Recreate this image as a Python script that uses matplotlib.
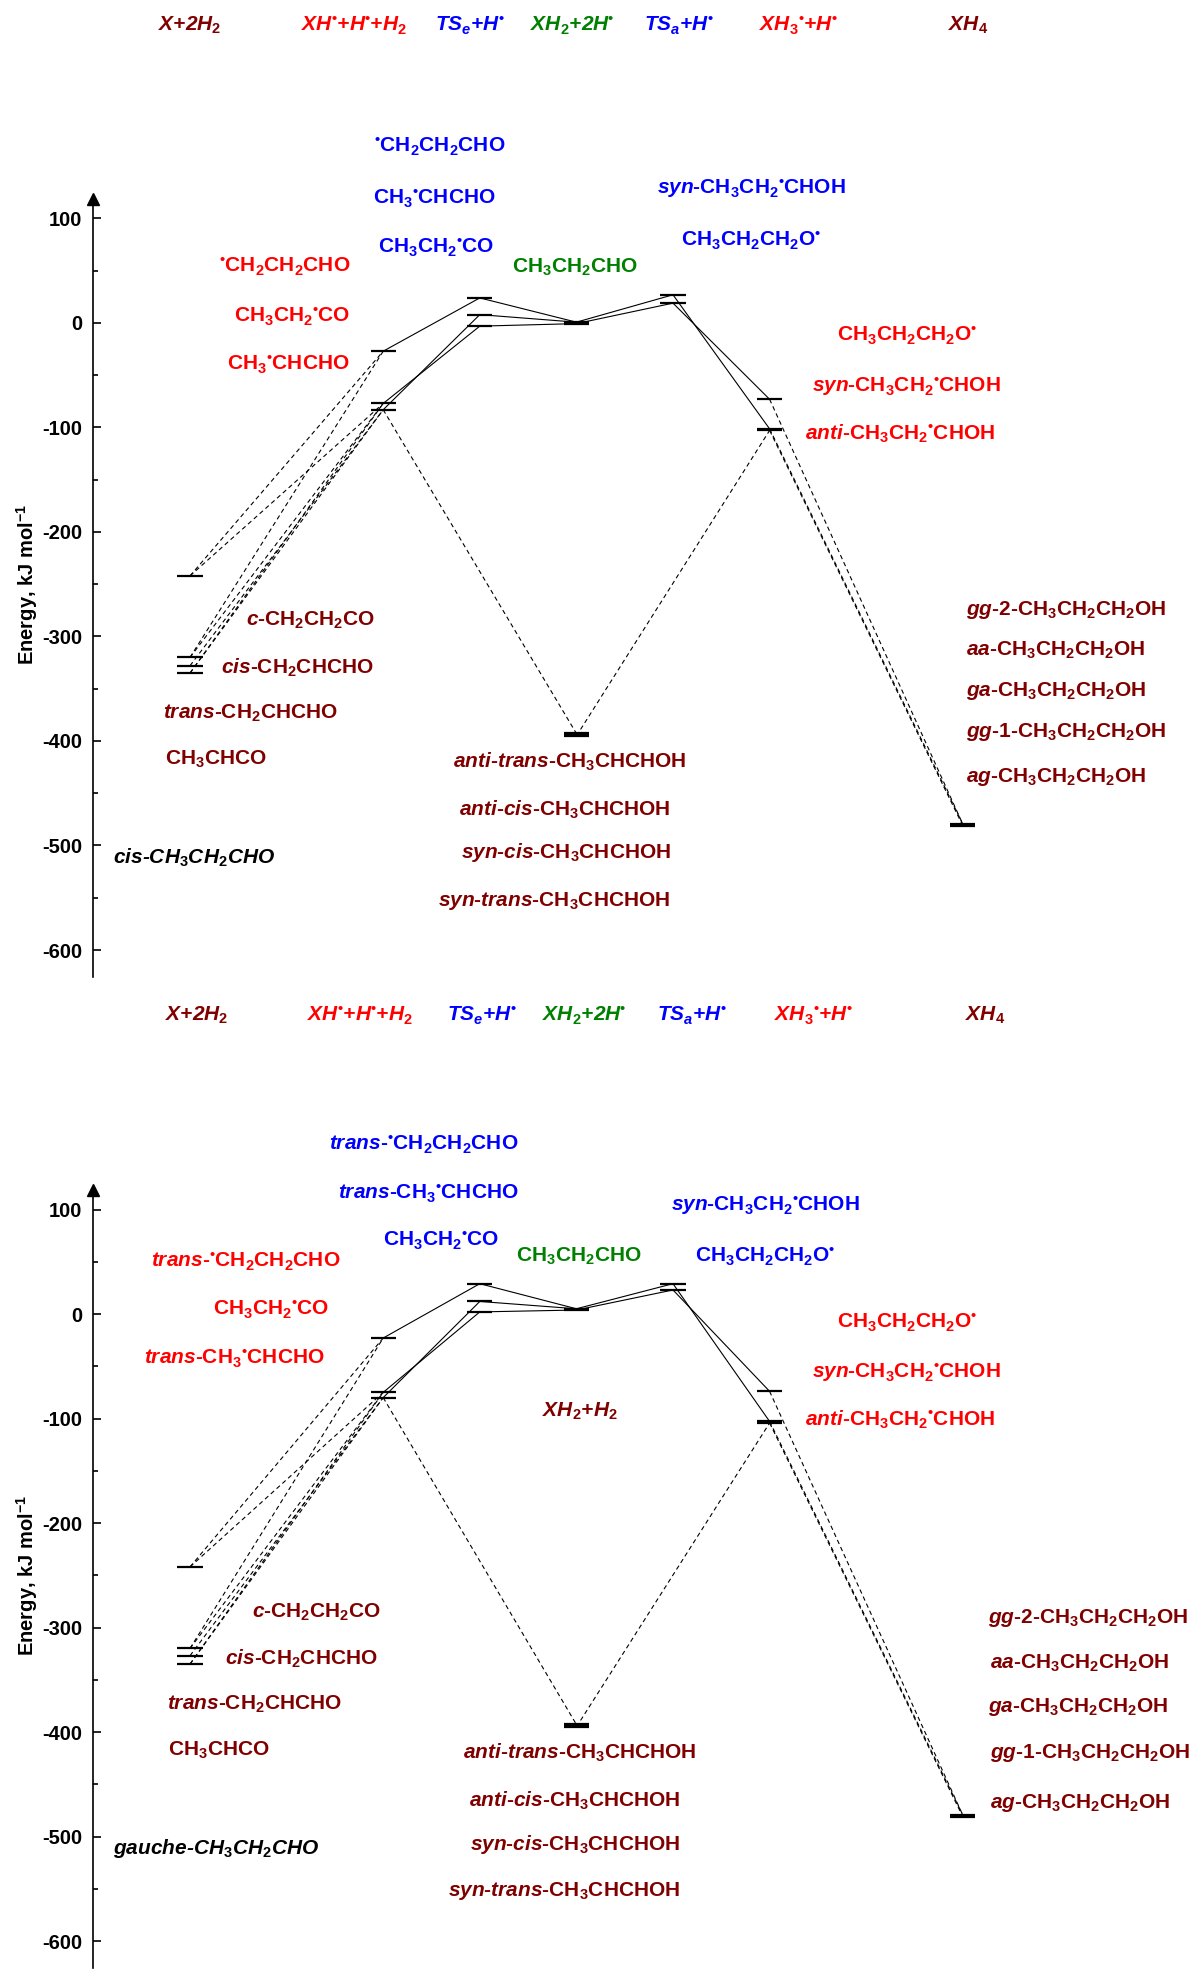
import matplotlib
matplotlib.use('Agg')
import matplotlib.pyplot as plt

plt.rcParams.update({
    'font.family': ['Liberation Sans', 'DejaVu Sans'],
    'font.weight': 'bold',
    'mathtext.fontset': 'custom',
    'mathtext.rm': 'Liberation Sans:bold',
    'mathtext.bf': 'Liberation Sans:bold',
    'mathtext.it': 'Liberation Sans:bold:italic',
    'mathtext.sf': 'Liberation Sans:bold',
    'mathtext.default': 'rm',
    'axes.unicode_minus': False,
})

# ---------------- data ----------------
stages = ['X', 'XH', 'TSe', 'XH2', 'TSa', 'XH3', 'XH4']

# Panel A (upper) energies, kJ/mol
a_levels = {
    'X':   [-242, -320, -328, -335],
    'XH':  [-27, -77, -83],
    'TSe': [24, 8, -3],
    'XH2': [0.8, -0.6, -392.8, -394, -395.2],
    'TSa': [27, 19],
    'XH3': [-73, -101.3, -102.8],
    'XH4': [-479.5, -481],
}
# Panel B (lower) energies, kJ/mol
b_levels = {
    'X':   [-242, -320, -327, -335],
    'XH':  [-23, -75, -80],
    'TSe': [29, 12, 2],
    'XH2': [5, 3.8, -392.8, -394, -395.2],
    'TSa': [29, 23],
    'XH3': [-74, -102.8, -104.3],
    'XH4': [-479.5, -481],
}

# connections (stage, level index) -> (stage, level index)
solid_links = [
    ('XH', 0, 'TSe', 0), ('XH', 1, 'TSe', 2), ('XH', 2, 'TSe', 1),
    ('TSe', 0, 'XH2', 0), ('TSe', 1, 'XH2', 0), ('TSe', 2, 'XH2', 1),
    ('XH2', 0, 'TSa', 0), ('XH2', 1, 'TSa', 1),
    ('TSa', 0, 'XH3', 1), ('TSa', 1, 'XH3', 0),
]
dashed_links = [
    ('X', 0, 'XH', 0), ('X', 0, 'XH', 1),
    ('X', 1, 'XH', 0), ('X', 1, 'XH', 1),
    ('X', 2, 'XH', 2), ('X', 3, 'XH', 2), ('X', 3, 'XH', 1),
    ('XH', 2, 'XH2', 2), ('XH2', 4, 'XH3', 2),
    ('XH3', 0, 'XH4', 0), ('XH3', 1, 'XH4', 0), ('XH3', 2, 'XH4', 1),
]

DR, RD, BL, GR, BK = '#800000', '#FF0000', '#0000FF', '#008000', '#000000'

header_texts = [r'X+2H$_\mathit{2}$', r'XH$^•$+H$^•$+H$_\mathit{2}$', r'TS$_\mathit{e}$+H$^•$',
                r'XH$_\mathit{2}$+2H$^•$', r'TS$_\mathit{a}$+H$^•$', r'XH$_\mathit{3}$$^•$+H$^•$',
                r'XH$_\mathit{4}$']
header_colors = [DR, RD, BL, GR, BL, RD, DR]

a_labels = [
    (r'$^•$CH$_2$CH$_2$CHO', BL), (r'CH$_3$$^•$CHCHO', BL), (r'CH$_3$CH$_2$$^•$CO', BL),
    (r'$^•$CH$_2$CH$_2$CHO', RD), (r'CH$_3$CH$_2$$^•$CO', RD), (r'CH$_3$$^•$CHCHO', RD),
    (r'CH$_3$CH$_2$CHO', GR),
    (r'$\mathit{syn}$-CH$_3$CH$_2$$^•$CHOH', BL), (r'CH$_3$CH$_2$CH$_2$O$^•$', BL),
    (r'CH$_3$CH$_2$CH$_2$O$^•$', RD), (r'$\mathit{syn}$-CH$_3$CH$_2$$^•$CHOH', RD),
    (r'$\mathit{anti}$-CH$_3$CH$_2$$^•$CHOH', RD),
    (r'$\mathit{c}$-CH$_2$CH$_2$CO', DR), (r'$\mathit{cis}$-CH$_2$CHCHO', DR),
    (r'$\mathit{trans}$-CH$_2$CHCHO', DR), (r'CH$_3$CHCO', DR),
    (r'cis-CH$_\mathit{3}$CH$_\mathit{2}$CHO', BK),
    (r'$\mathit{anti}$-$\mathit{trans}$-CH$_3$CHCHOH', DR), (r'$\mathit{anti}$-$\mathit{cis}$-CH$_3$CHCHOH', DR),
    (r'$\mathit{syn}$-$\mathit{cis}$-CH$_3$CHCHOH', DR), (r'$\mathit{syn}$-$\mathit{trans}$-CH$_3$CHCHOH', DR),
    (r'$\mathit{gg}$-$\mathit{2}$-CH$_3$CH$_2$CH$_2$OH', DR), (r'$\mathit{aa}$-CH$_3$CH$_2$CH$_2$OH', DR),
    (r'$\mathit{ga}$-CH$_3$CH$_2$CH$_2$OH', DR), (r'$\mathit{gg}$-$\mathit{1}$-CH$_3$CH$_2$CH$_2$OH', DR),
    (r'$\mathit{ag}$-CH$_3$CH$_2$CH$_2$OH', DR),
]
b_labels = [
    (r'$\mathit{trans}$-$^•$CH$_2$CH$_2$CHO', BL), (r'$\mathit{trans}$-CH$_3$$^•$CHCHO', BL),
    (r'CH$_3$CH$_2$$^•$CO', BL),
    (r'$\mathit{trans}$-$^•$CH$_2$CH$_2$CHO', RD), (r'CH$_3$CH$_2$$^•$CO', RD),
    (r'$\mathit{trans}$-CH$_3$$^•$CHCHO', RD),
    (r'CH$_3$CH$_2$CHO', GR),
    (r'XH$_\mathit{2}$+H$_\mathit{2}$', DR),
    (r'$\mathit{syn}$-CH$_3$CH$_2$$^•$CHOH', BL), (r'CH$_3$CH$_2$CH$_2$O$^•$', BL),
    (r'CH$_3$CH$_2$CH$_2$O$^•$', RD), (r'$\mathit{syn}$-CH$_3$CH$_2$$^•$CHOH', RD),
    (r'$\mathit{anti}$-CH$_3$CH$_2$$^•$CHOH', RD),
    (r'$\mathit{c}$-CH$_2$CH$_2$CO', DR), (r'$\mathit{cis}$-CH$_2$CHCHO', DR),
    (r'$\mathit{trans}$-CH$_2$CHCHO', DR), (r'CH$_3$CHCO', DR),
    (r'gauche-CH$_\mathit{3}$CH$_\mathit{2}$CHO', BK),
    (r'$\mathit{anti}$-$\mathit{trans}$-CH$_3$CHCHOH', DR), (r'$\mathit{anti}$-$\mathit{cis}$-CH$_3$CHCHOH', DR),
    (r'$\mathit{syn}$-$\mathit{cis}$-CH$_3$CHCHOH', DR), (r'$\mathit{syn}$-$\mathit{trans}$-CH$_3$CHCHOH', DR),
    (r'$\mathit{gg}$-$\mathit{2}$-CH$_3$CH$_2$CH$_2$OH', DR), (r'$\mathit{aa}$-CH$_3$CH$_2$CH$_2$OH', DR),
    (r'$\mathit{ga}$-CH$_3$CH$_2$CH$_2$OH', DR), (r'$\mathit{gg}$-$\mathit{1}$-CH$_3$CH$_2$CH$_2$OH', DR),
    (r'$\mathit{ag}$-CH$_3$CH$_2$CH$_2$OH', DR),
]
italic_labels = {r'cis-CH$_\mathit{3}$CH$_\mathit{2}$CHO', r'gauche-CH$_\mathit{3}$CH$_\mathit{2}$CHO',
                 r'XH$_\mathit{2}$+H$_\mathit{2}$'}

yticks = [100, 0, -100, -200, -300, -400, -500, -600]
yticks_minor = [50, -50, -150, -250, -350, -450, -550]

# ---------------- layout (pixels of the 1200x1985 canvas) ----------------
W, H = 1200, 1985
X0, UNIT = 190.0, 96.6          # pixel x of first stage, pixels per stage step
PPU = 1.045                      # pixels per kJ/mol
stage_pos = dict(zip(stages, [0, 2, 3, 4, 5, 6, 8]))
YMIN, YMAX = -626, 125
HALF = 0.13

# header positions (x px) and label positions (x px, y px, ha)
a_header_x = [190, 354, 470, 572, 679, 798, 968]
b_header_x = [197, 360, 482, 584, 692, 813, 985]
a_header_y, b_header_y = 25, 1015
a_label_pos = [
    (440, 146, 'center'), (434, 198, 'center'), (436, 247, 'center'),
    (350, 266, 'right'), (350, 316, 'right'), (350, 364, 'right'),
    (575, 267, 'center'),
    (751, 189, 'center'), (751, 240, 'center'),
    (907, 335, 'center'), (906, 387, 'center'), (900, 434, 'center'),
    (311, 620, 'center'), (297, 668, 'center'), (250, 713, 'center'), (165, 759, 'left'),
    (194, 858, 'center'),
    (570, 762, 'center'), (565, 810, 'center'), (566, 853, 'center'), (554, 901, 'center'),
    (966, 610, 'left'), (966, 650, 'left'), (966, 691, 'left'), (966, 732, 'left'), (966, 777, 'left'),
]
b_label_pos = [
    (424, 1144, 'center'), (428, 1193, 'center'), (441, 1240, 'center'),
    (246, 1261, 'center'), (271, 1309, 'center'), (234, 1358, 'center'),
    (579, 1256, 'center'),
    (580, 1411, 'center'),
    (765, 1206, 'center'), (765, 1256, 'center'),
    (907, 1322, 'center'), (906, 1373, 'center'), (900, 1420, 'center'),
    (317, 1612, 'center'), (301, 1659, 'center'), (254, 1704, 'center'), (168, 1750, 'left'),
    (216, 1848, 'center'),
    (580, 1753, 'center'), (575, 1801, 'center'), (575, 1844, 'center'), (564, 1891, 'center'),
    (988, 1618, 'left'), (990, 1663, 'left'), (988, 1707, 'left'), (990, 1753, 'left'), (990, 1803, 'left'),
]

LABEL_FS = 15
HEADER_FS = 15

fig = plt.figure(figsize=(W / 100, H / 100), dpi=100)


def draw_panel(zero_px, levels, header_x, header_y, labels, label_pos):
    top_px = zero_px - YMAX * PPU
    bot_px = zero_px - YMIN * PPU
    left_px = X0 - UNIT
    ax = fig.add_axes([left_px / W, 1 - bot_px / H, (W - left_px) / W, (bot_px - top_px) / H])
    ax.set_xlim(-1, (W - X0) / UNIT)
    ax.set_ylim(YMIN, YMAX)

    def px2x(px):
        return (px - X0) / UNIT

    def py2y(py):
        return (zero_px - py) / PPU

    # levels
    for st in stages:
        p = stage_pos[st]
        for e in levels[st]:
            ax.plot([p - HALF, p + HALF], [e, e], color='k', lw=1.6, solid_capstyle='butt', zorder=3)
    # links
    for (s1, i1, s2, i2) in solid_links:
        ax.plot([stage_pos[s1], stage_pos[s2]], [levels[s1][i1], levels[s2][i2]],
                color='k', lw=0.8, zorder=2)
    for (s1, i1, s2, i2) in dashed_links:
        ax.plot([stage_pos[s1], stage_pos[s2]], [levels[s1][i1], levels[s2][i2]],
                color='k', lw=0.8, ls=(0, (4, 3)), zorder=2)

    # axis
    for sp in ['top', 'right', 'bottom']:
        ax.spines[sp].set_visible(False)
    ax.spines['left'].set_linewidth(1.2)
    ax.spines['left'].set_bounds(YMIN, 118)
    ax.plot([-1], [119], marker='^', ms=8.6, color='k', clip_on=False, zorder=5)
    ax.set_xticks([])
    ax.set_yticks(yticks)
    ax.set_yticks(yticks_minor, minor=True)
    ax.tick_params(axis='y', which='major', direction='in', length=5.5, width=1.2, pad=8,
                   labelsize=14.5)
    ax.tick_params(axis='y', which='minor', direction='in', length=3.5, width=1.2)
    for t in ax.get_yticklabels():
        t.set_fontweight('bold')
    ax.text(px2x(27), (YMIN + YMAX) / 2, r'Energy, kJ mol$^{-1}$', rotation=90,
            ha='center', va='center', fontsize=14.5, fontweight='bold', clip_on=False)

    # headers
    for txt, col, hx in zip(header_texts, header_colors, header_x):
        ax.text(px2x(hx), py2y(header_y), txt, color=col, fontsize=HEADER_FS, fontweight='bold',
                fontstyle='italic', ha='center', va='center', clip_on=False)
    # labels
    for (txt, col), (lx, ly, ha) in zip(labels, label_pos):
        style = 'italic' if txt in italic_labels else 'normal'
        ax.text(px2x(lx), py2y(ly), txt, color=col, fontsize=LABEL_FS, fontweight='bold',
                fontstyle=style, ha=ha, va='center', clip_on=False)
    return ax


draw_panel(323, a_levels, a_header_x, a_header_y, a_labels, a_label_pos)
draw_panel(1314, b_levels, b_header_x, b_header_y, b_labels, b_label_pos)

fig.savefig('out.png', dpi=100)
